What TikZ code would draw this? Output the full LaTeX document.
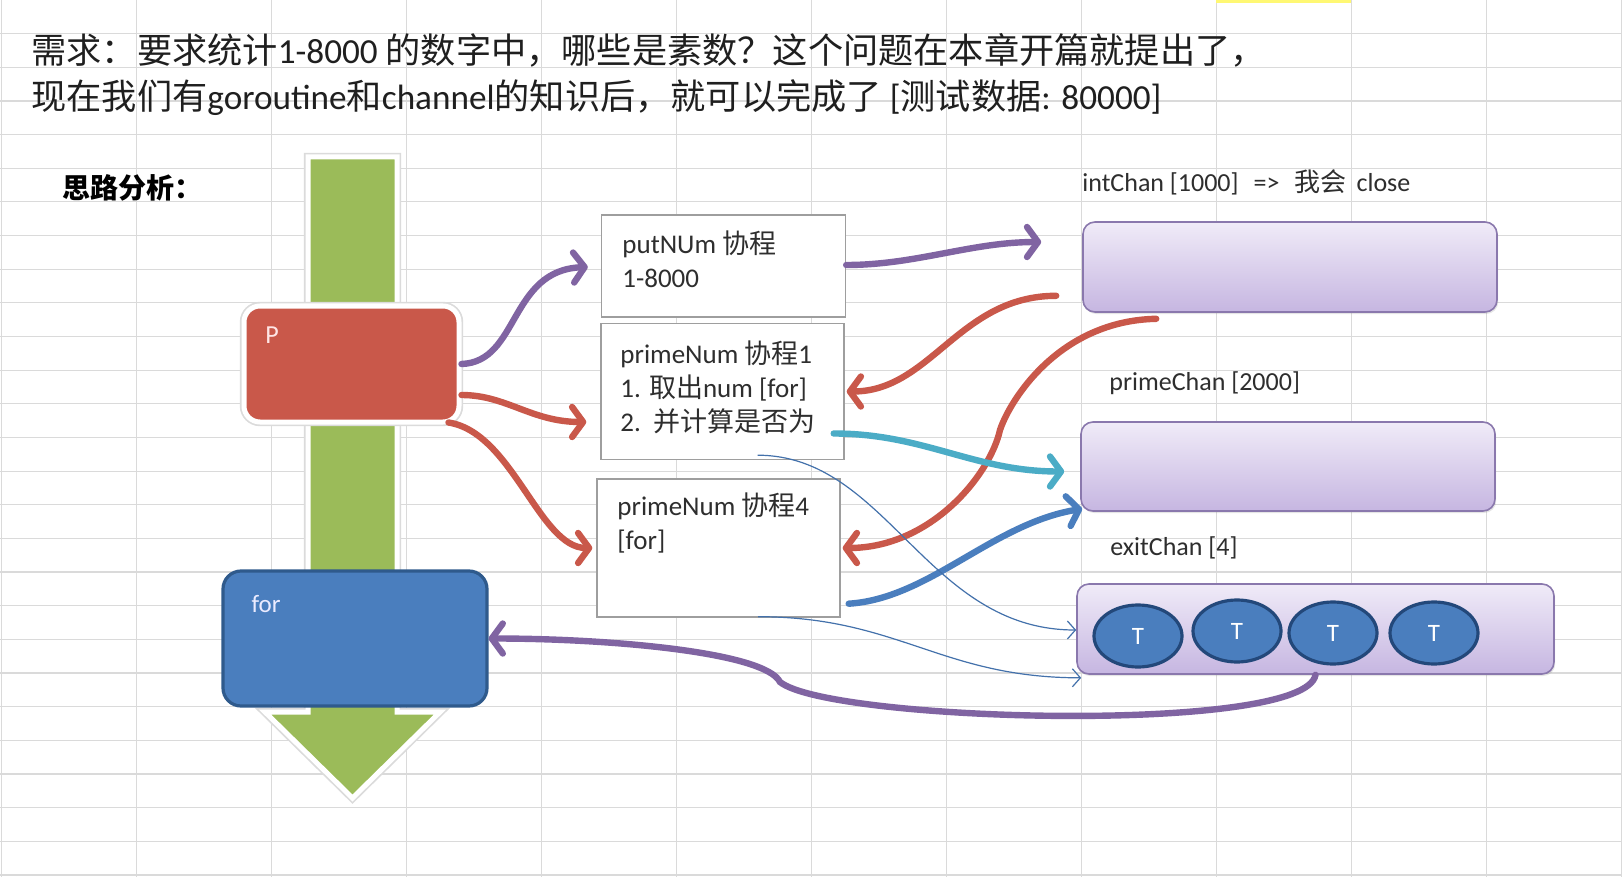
\documentclass[tikz,border=0pt]{standalone}
\usepackage{fontspec}
\setmainfont{Carlito}
\newfontfamily\cjk{Noto Sans CJK SC}
\usetikzlibrary{arrows.meta,shapes.geometric,calc,shadows}

\definecolor{gridgray}{HTML}{DADADA}
\definecolor{pgreen}{HTML}{9BBB59}
\definecolor{pred}{HTML}{C9584A}
\definecolor{pblue}{HTML}{4A7EBE}
\definecolor{pblueD}{HTML}{2F5A8C}
\definecolor{tline}{HTML}{23487A}
\definecolor{ppurple}{HTML}{8064A2}
\definecolor{pteal}{HTML}{4BACC6}
\definecolor{chtop}{HTML}{F0EBF8}
\definecolor{chbot}{HTML}{C6B6E1}
\definecolor{chline}{HTML}{8A78AD}

\newcommand{\zh}[1]{{\cjk #1}}

\begin{document}
\begin{tikzpicture}[x=0.5pt,y=-0.5pt,
  gridln/.style={draw=gridgray,line width=0.6pt},
  head/.style={anchor=west,align=left,inner sep=0,text=black!88,font=\fontsize{17.6}{23}\selectfont},
  boxtxt/.style={anchor=west,align=left,inner sep=0,text=black!82,font=\fontsize{13.5}{17}\selectfont},
  chantxt/.style={anchor=west,inner sep=0,text=black!82,font=\fontsize{13}{16}\selectfont},
  wbox/.style={draw=black!38,line width=0.7pt,fill=white,inner sep=0},
  chan/.style={draw=chline,line width=0.8pt,rounded corners=6pt,top color=chtop,bottom color=chbot,inner sep=0,
    drop shadow={opacity=0.2,shadow xshift=0.6pt,shadow yshift=-1pt}},
  tball/.style={ellipse,draw=tline,line width=1.6pt,fill=pblue,text=white,inner sep=0,
    minimum width=44pt,minimum height=31pt,font=\fontsize{12.5}{14}\selectfont},
  fat/.style={line width=3.2pt,line cap=round,-{Straight Barb[round,length=5.5pt,width=15pt]}},
  slim/.style={draw=pblue!90!black,line width=0.6pt,-{Straight Barb[length=4pt,width=9pt]}}]

\useasboundingbox (0,0) rectangle (1622,877);
\fill[white] (0,0) rectangle (1622,877);

% sheet grid
\foreach \k in {0,...,12} \draw[gridln] ({1.5+135*\k},0) -- ({1.5+135*\k},877);
\foreach \k in {1,...,26} \draw[gridln] (0,{33.65*\k}) -- (1622,{33.65*\k});
\fill[yellow!55] (1216,0) rectangle (1351,3);

\node[head] (need) at (31,74) {\zh{需求：要求统计}1-8000 \zh{的数字中，哪些是素数？这个问题在本章开篇就提出了，}\\\zh{现在我们有}goroutine\zh{和}channel\zh{的知识后，就可以完成了} [\zh{测试数据}: 80000]};
\node[anchor=west,inner sep=0,font=\fontsize{14}{16}\selectfont\cjk\bfseries] (idea) at (62,188) {思路分析：};

% main flow
\draw[fill=pgreen,draw=white,line width=2.5pt,preaction={draw=black!14,line width=4.2pt}]
  (308,157) -- (397,157) -- (397,712) -- (440,712) -- (352.5,798) -- (265,712) -- (308,712) -- cycle;
\node[draw=white,line width=2.5pt,fill=pred,rounded corners=8pt,minimum width=107.5pt,minimum height=58pt,inner sep=0,
  preaction={draw=black!14,line width=4.2pt}] (P) at (351.5,364) {};
\node[text=red!10,font=\fontsize{13}{15}\selectfont] (Ptxt) at (272,335) {P};
\node[draw=pblueD,line width=1.6pt,fill=pblue,rounded corners=9pt,minimum width=132pt,minimum height=67.5pt,inner sep=0] (loop) at (355,638.5) {};
\node[text=blue!8,font=\fontsize{12.5}{15}\selectfont] (looptxt) at (266,604) {for};

% goroutines
\node[wbox,minimum width=122pt,minimum height=51pt] (put) at (723.5,266) {};
\node[boxtxt] (putT) at (622,259) {putNUm \zh{协程}\\1-8000};
\node[wbox,minimum width=121.5pt,minimum height=68pt] (p1) at (722.5,391.5) {};
\node[boxtxt] (p1T) at (620,387) {primeNum \zh{协程}1\\1. \zh{取出}num [for]\\2.\ \ \zh{并计算是否为}};
\node[wbox,minimum width=121.5pt,minimum height=69pt] (p4) at (718.5,548) {};
\node[boxtxt] (p4T) at (617,523) {primeNum \zh{协程}4\\{[for]}};

% channels
\node[chantxt] (intcL) at (1082,182) {intChan [1000]\hspace{7.5pt}=>\hspace{7.5pt}\zh{我会}\hspace{5pt}close};
\node[chan,minimum width=207pt,minimum height=45pt] (intc) at (1290,267) {};
\node[chantxt] (primecL) at (1109,383) {primeChan [2000]};
\node[chan,minimum width=207pt,minimum height=44.5pt] (primec) at (1288,466.5) {};
\node[chantxt] (exitcL) at (1110,548) {exitChan [4]};
\node[chan,minimum width=238.5pt,minimum height=45pt] (exitc) at (1315.5,629) {};
\node[tball] (t1) at (1138,636) {T};
\node[tball] (t2) at (1237,631) {T};
\node[tball] (t3) at (1333,633) {T};
\node[tball] (t4) at (1434,633) {T};

\coordinate (rbend) at (1000,430);
\coordinate (pbend) at (780,682);

% connectors
\draw[fat,ppurple] (P.east) .. controls +(58,-2) and +(-79,3) .. ($(put.west)+(-13,1)$);
\draw[fat,pred] ($(P.east)+(0,31)$) .. controls +(45,0) and +(-55,0) .. ($(p1.west)+(-14,30.5)$);
\draw[fat,pred] ($(P.south east)+(-13,-2)$) .. controls +(64,10) and +(-53,0) .. ($(p4.west)+(-4,0)$);
\draw[fat,pred] ($(intc.south west)+(-26,-17)$) .. controls +(-97,0) and +(84,0) .. ($(p1.east)+(2,0)$);
\draw[fat,pred] ($(intc.south west)+(74,6)$) .. controls +(-97,2) and +(10,-30) .. (rbend)
  .. controls +(-10,45) and +(88,0) .. ($(p4.east)+(2,0)$);
\draw[fat,pteal] ($(p1.east)+(-11,42)$) .. controls +(90,0) and +(-90,0) .. ($(primec.west)+(-16,5)$);
\draw[fat,pblue] ($(p4.south east)+(8,-14)$) .. controls +(80,-5) and +(-90,15) .. ($(primec.south west)+(2,-3)$);
\draw[fat,ppurple] ($(put.east)+(0,-1)$) .. controls +(70,0) and +(-70,0) .. ($(intc.west)+(-41,-25)$);
\draw[fat,ppurple] (exitc.south) .. controls +(-10,60) and +(50,40) .. (pbend)
  .. controls +(-15,-30) and +(120,0) .. (loop.east);
\draw[slim] ($(p1.south)+(35,-5)$) .. controls +(130,0) and +(-150,0) .. ($(exitc.west)+(0,1)$);
\draw[slim] ($(p4.south)+(39.5,-1)$) .. controls +(140,0) and +(-140,0) .. ($(exitc.south west)+(5,3)$);
\end{tikzpicture}
\end{document}
